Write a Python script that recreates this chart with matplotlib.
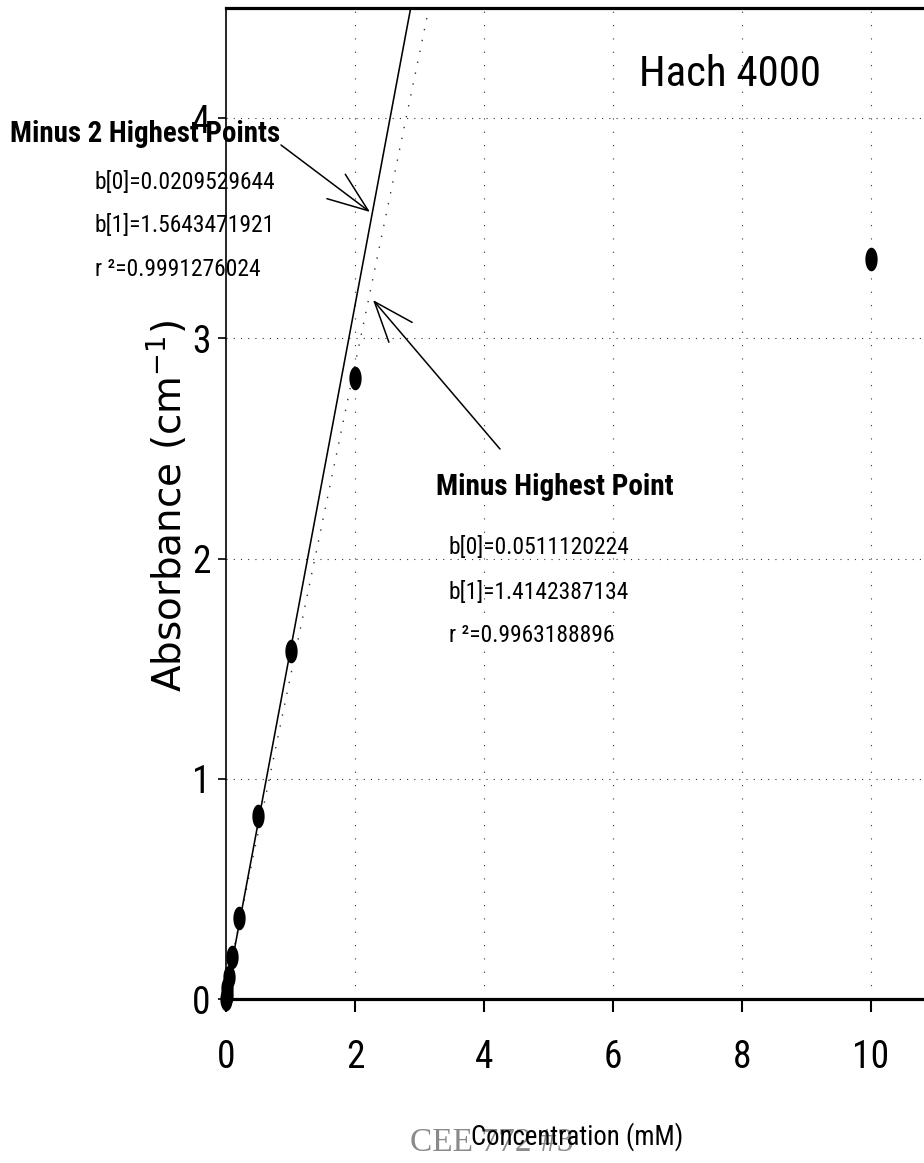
import matplotlib
matplotlib.use("Agg")
import matplotlib.pyplot as plt
from matplotlib.path import Path
from matplotlib import font_manager
import numpy as np

# ---- data ----
conc = [0.0, 0.01, 0.02, 0.05, 0.1, 0.2, 0.5, 1.0, 2.0, 10.0]
absorb = [0.0, 0.02, 0.05, 0.10, 0.19, 0.37, 0.83, 1.58, 2.82, 3.36]
fit2_b0, fit2_b1 = 0.0209529644, 1.5643471921   # minus 2 highest points
fit1_b0, fit1_b1 = 0.0511120224, 1.4142387134   # minus highest point
xticks = [0, 2, 4, 6, 8, 10]
yticks = [0, 1, 2, 3, 4]
title = "Hach 4000"
fit2_title = "Minus 2 Highest Points"
fit2_lines = ["b[0]=0.0209529644", "b[1]=1.5643471921", "r \u00b2=0.9991276024"]
fit1_title = "Minus Highest Point"
fit1_lines = ["b[0]=0.0511120224", "b[1]=1.4142387134", "r \u00b2=0.9963188896"]

names = {f.name for f in font_manager.fontManager.ttflist}


def pick(cands):
    for c in cands:
        if c in names:
            return c
    return "DejaVu Sans"


NARROW = pick(["Liberation Sans Narrow", "Arial Narrow", "Roboto Condensed",
               "Barlow Condensed", "Asap Condensed"])
SERIF = pick(["Liberation Serif", "DejaVu Serif"])
plt.rcParams["font.family"] = [NARROW, "DejaVu Sans"]
plt.rcParams["mathtext.fontset"] = "custom"
plt.rcParams["mathtext.rm"] = "DejaVu Sans"

W, H = 924, 1163
fig = plt.figure(figsize=(W / 100, H / 100), dpi=100)
renderer = fig.canvas.get_renderer()


def fx(px):
    return px / W


def fy(py):
    return 1 - py / H


def fit(t, target_px, axis="w"):
    for _ in range(3):
        bb = t.get_window_extent(renderer=renderer)
        cur = bb.width if axis == "w" else bb.height
        if cur > 0:
            t.set_fontsize(t.get_fontsize() * target_px / cur)
    return t


x0, xr = 226, 64.5   # px of x=0, px per unit
ybot, ytop = 999, 8
ax = fig.add_axes([fx(x0), fy(ybot), 12 * xr / W, (ybot - ytop) / H])
ax.set_xlim(0, 12)
ax.set_ylim(0, 4.5)

# grid
for gx in xticks[1:]:
    ax.axvline(gx, color="#333333", lw=0.8, ls=(0, (1, 11)), zorder=1)
for gy in yticks[1:]:
    ax.axhline(gy, color="#333333", lw=0.8, ls=(0, (1, 5.5)), zorder=1)

# regression lines
xl = np.array([0.0, 4.0])
ax.plot(xl, fit1_b0 + fit1_b1 * xl, color="#333333", lw=1.0, ls=(0, (1, 7)), zorder=2)
ax.plot(xl, fit2_b0 + fit2_b1 * xl, color="black", lw=1.15, zorder=3)

# ellipse markers (tall)
t = np.linspace(0, 2 * np.pi, 60)
ell = Path(np.column_stack([0.52 * np.cos(t), np.sin(t)]), closed=True)
ax.plot(conc, absorb, ls="none", marker=ell, markersize=17, color="black",
        markeredgewidth=0, zorder=4, clip_on=False)

# spines
ax.spines["right"].set_visible(False)
ax.spines["top"].set_linewidth(2.3)
ax.spines["bottom"].set_linewidth(2.3)
ax.spines["left"].set_linewidth(1.2)

ax.set_xticks(xticks)
ax.set_yticks(yticks)
ax.set_xticklabels([str(v) for v in xticks])
ax.set_yticklabels([str(v) for v in yticks])
ax.tick_params(axis="x", direction="out", length=9.5, width=1.5, pad=19, labelsize=27)
ax.tick_params(axis="y", direction="out", length=6, width=1.2, pad=5, labelsize=27)

# title
fit(fig.text(fx(730), fy(75), title, fontsize=40, ha="center", va="center"), 182)

# annotations
fit(fig.text(fx(10), fy(134), fit2_title, fontsize=22, fontweight="bold",
             ha="left", va="center"), 270)
for i, s in enumerate(fit2_lines):
    tt = fig.text(fx(95), fy(182 + 44 * i), s, fontsize=18, ha="left", va="center")
    if i == 0:
        fit(tt, 180)
        fs_b = tt.get_fontsize()
    else:
        tt.set_fontsize(fs_b)

fit(fig.text(fx(436), fy(487), fit1_title, fontsize=22, fontweight="bold",
             ha="left", va="center"), 238)
for i, s in enumerate(fit1_lines):
    fig.text(fx(449), fy(548 + 44 * i), s, fontsize=fs_b, ha="left", va="center")

arrowprops = dict(arrowstyle="->,head_length=2.9,head_width=1.1", color="black",
                  lw=1.1, shrinkA=0, shrinkB=0)
ax.annotate("", xy=(fx(370), fy(212)), xycoords="figure fraction",
            xytext=(fx(281), fy(145)), textcoords="figure fraction", arrowprops=arrowprops)
ax.annotate("", xy=(fx(373), fy(300)), xycoords="figure fraction",
            xytext=(fx(500), fy(449)), textcoords="figure fraction", arrowprops=arrowprops)

# axis labels
fit(fig.text(fx(167), fy(506), "Absorbance (cm$^{-1}$)", rotation=90,
             fontsize=26, ha="center", va="center", family="DejaVu Sans"), 372, axis="h")
fit(fig.text(fx(577), fy(1137), "Concentration (mM)", fontsize=22, ha="center",
             va="center"), 212)
fig.text(fx(410), fy(1143), "CEE 772 #3", fontsize=24, color="#8a8a8a", ha="left",
         va="center", family=[SERIF, "DejaVu Serif"], zorder=0)

fig.savefig("out.png", dpi=100)
